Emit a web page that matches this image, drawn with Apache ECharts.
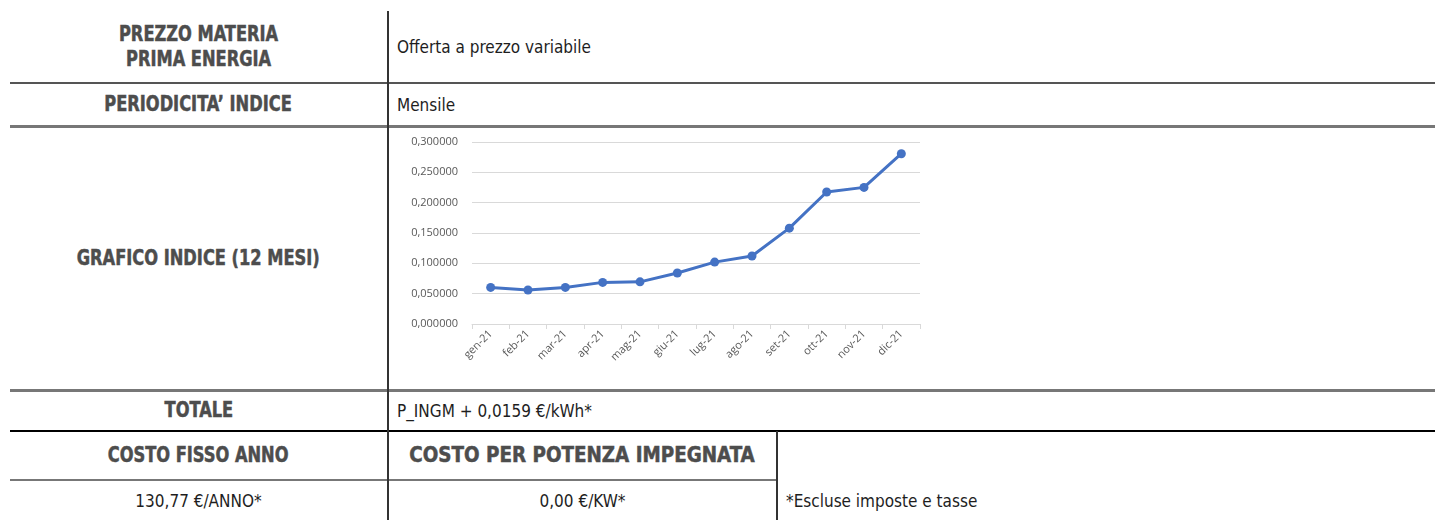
<!DOCTYPE html>
<html>
<head>
<meta charset="utf-8">
<script src="https://cdn.jsdelivr.net/npm/echarts@6/dist/echarts.min.js"></script>
<style>
  body {
    margin: 0;
    width: 1435px;
    height: 520px;
    overflow: hidden;
    position: relative;
    background: #fff;
    font-family: "Liberation Sans Narrow", "DejaVu Sans Condensed", sans-serif;
  }
  .h { position: absolute; height: 2px; background: #666; }
  .v { position: absolute; width: 1.5px; background: #333; }
  .cell {
    position: absolute;
    display: flex;
    align-items: center;
    color: #1e1e1e;
    font-size: 17px;
  }
  .head {
    justify-content: center;
    text-align: center;
    font-weight: bold;
    font-size: 21px;
    color: #4d4d4d;
    line-height: 25px;
    -webkit-text-stroke: 0.5px #4d4d4d;
  }
  .head span { display: inline-block; transform: scaleX(0.86); }
  .head span.wide { transform: scaleX(0.97); }
  .txt { padding-left: 8px; }
  .mid { justify-content: center; }
  #chart { position: absolute; left: 389px; top: 128px; width: 560px; height: 262px; }
</style>
</head>
<body>
  <!-- linee della tabella -->
  <div class="h" style="left:10px;top:82px;width:1425px;background:#555"></div>
  <div class="h" style="left:10px;top:125px;width:1425px;background:#777;height:2.5px"></div>
  <div class="h" style="left:10px;top:389px;width:1425px;background:#777;height:2.5px"></div>
  <div class="h" style="left:10px;top:430px;width:1425px;background:#000;height:1.5px"></div>
  <div class="h" style="left:10px;top:479px;width:767px;background:#777"></div>
  <div class="v" style="left:387px;top:11px;height:509px"></div>
  <div class="v" style="left:776px;top:431px;height:89px"></div>

  <!-- testi -->
  <div class="cell head" style="left:10px;top:12px;width:377px;height:70px"><span>PREZZO MATERIA<br>PRIMA ENERGIA</span></div>
  <div class="cell txt" style="left:389px;top:12px;width:700px;height:70px">Offerta a prezzo variabile</div>
  <div class="cell head" style="left:10px;top:84px;width:377px;height:41px"><span>PERIODICITA’ INDICE</span></div>
  <div class="cell txt" style="left:389px;top:84px;width:700px;height:41px">Mensile</div>
  <div class="cell head" style="left:10px;top:128px;width:377px;height:261px"><span>GRAFICO INDICE (12 MESI)</span></div>
  <div class="cell head" style="left:10px;top:391px;width:377px;height:39px"><span>TOTALE</span></div>
  <div class="cell txt" style="left:389px;top:391px;width:700px;height:39px">P_INGM + 0,0159 €/kWh*</div>
  <div class="cell head" style="left:10px;top:431px;width:377px;height:48px"><span>COSTO FISSO ANNO</span></div>
  <div class="cell head" style="left:389px;top:431px;width:387px;height:48px"><span class="wide">COSTO PER POTENZA IMPEGNATA</span></div>
  <div class="cell mid" style="left:10px;top:481px;width:377px;height:39px">130,77 €/ANNO*</div>
  <div class="cell mid" style="left:389px;top:481px;width:387px;height:39px">0,00 €/KW*</div>
  <div class="cell txt" style="left:778px;top:481px;width:600px;height:39px">*Escluse imposte e tasse</div>

  <div id="chart"></div>

<script>
  // dati
  const mesi = ["gen-21", "feb-21", "mar-21", "apr-21", "mag-21", "giu-21",
    "lug-21", "ago-21", "set-21", "ott-21", "nov-21", "dic-21"];
  const indice = [0.0603, 0.0560, 0.0603, 0.0686, 0.0695, 0.0840,
    0.1020, 0.1120, 0.1580, 0.2176, 0.2252, 0.2807];

  const myChart = echarts.init(document.getElementById("chart"));

  myChart.setOption({
    animation: false,
    grid: { left: 83, top: 14, width: 448, height: 182 },
    xAxis: {
      type: "category",
      data: mesi,
      boundaryGap: true,
      axisLine: { lineStyle: { color: "#d9d9d9", width: 1 } },
      axisTick: { show: true, length: 5, lineStyle: { color: "#d9d9d9" } },
      axisLabel: {
        rotate: 45,
        interval: 0,
        margin: 8,
        color: "#595959",
        fontSize: 11,
        fontFamily: "Open Sans, sans-serif",
      },
    },
    yAxis: {
      type: "value",
      min: 0,
      max: 0.3,
      interval: 0.05,
      axisLine: { show: false },
      axisTick: { show: false },
      splitLine: { lineStyle: { color: "#d9d9d9", width: 1 } },
      axisLabel: {
        margin: 14,
        color: "#595959",
        fontSize: 11,
        fontFamily: "Open Sans, sans-serif",
        formatter: (v) => v.toFixed(6).replace(".", ","),
      },
    },
    series: [
      {
        type: "line",
        data: indice,
        symbol: "circle",
        symbolSize: 9,
        lineStyle: { color: "#4472c4", width: 3 },
        itemStyle: { color: "#4472c4" },
      },
    ],
  });
</script>
</body>
</html>
